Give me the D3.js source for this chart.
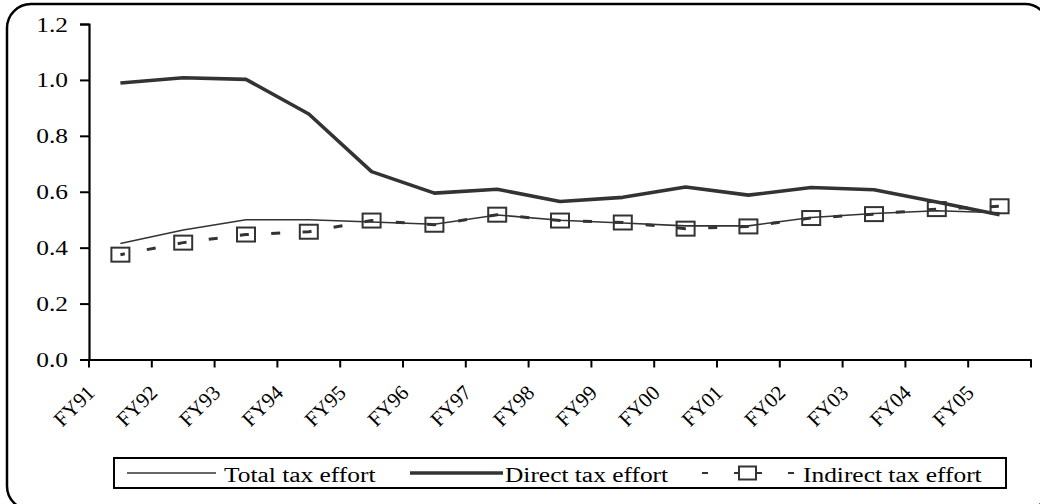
<!DOCTYPE html>
<html><head><meta charset="utf-8">
<script src="https://cdn.jsdelivr.net/npm/d3@7"></script>
<style>body{margin:0;background:#fff;overflow:hidden}svg{display:block}text{font-family:"Liberation Serif","Times New Roman",serif;fill:#000}</style>
</head><body><svg id="c" width="1040" height="504"></svg>
<script>
const categories = ["FY91","FY92","FY93","FY94","FY95","FY96","FY97","FY98","FY99","FY00","FY01","FY02","FY03","FY04","FY05"];
const totalTax = [0.415,0.463,0.500,0.500,0.492,0.484,0.517,0.498,0.488,0.478,0.478,0.508,0.522,0.532,0.525];
const directTax = [0.989,1.008,1.002,0.878,0.672,0.595,0.609,0.565,0.580,0.617,0.588,0.615,0.607,0.563,0.518];
const indirectTax = [0.375,0.418,0.447,0.457,0.497,0.482,0.518,0.497,0.490,0.468,0.476,0.506,0.520,0.538,0.548];
const yTicks = [0,0.2,0.4,0.6,0.8,1.0,1.2];
const seriesNames = ["Total tax effort","Direct tax effort","Indirect tax effort"];

const svg = d3.select("#c");
const FS = 20, SX = 1.27;
const col = "#333";

svg.append("rect").attr("x",7).attr("y",4).attr("width",1042).attr("height",506)
  .attr("rx",24).attr("fill","none").attr("stroke","#000").attr("stroke-width",2.5);

const x = d3.scaleBand().domain(categories).range([89,1031]);
const y = d3.scaleLinear().domain([0,1.2]).range([359.5,24]);
const cx = d => x(d) + x.bandwidth()/2;

// Y axis
const ya = svg.append("g").attr("transform","translate(89,0)")
  .call(d3.axisLeft(y).tickValues(yTicks).tickSize(9).tickPadding(0).tickFormat(d3.format(".1f")));
ya.select(".domain").attr("stroke","#000").attr("stroke-width",2.2);
ya.selectAll(".tick line").attr("stroke","#000").attr("stroke-width",2);
ya.selectAll(".tick text").each(function(){
  const t = d3.select(this);
  t.attr("x",null).attr("dy",null).attr("text-anchor","end")
   .attr("transform",`translate(-21,7) scale(${SX},1)`)
   .style("font-size",FS+"px").style("font-family","'Liberation Serif','Times New Roman',serif").attr("fill","#000");
});

// X axis
const xa = svg.append("g").attr("transform","translate(0,359.5)")
  .call(d3.axisBottom(x).tickSize(0).tickFormat(""));
xa.select(".domain").attr("stroke","#000").attr("stroke-width",2.2);
xa.selectAll(".tick").remove();
const edges = categories.map(c=>x(c)).concat([x(categories[categories.length-1])+x.bandwidth()]);
xa.selectAll("line.tk").data(edges).enter().append("line").attr("class","tk")
  .attr("x1",d=>d).attr("x2",d=>d).attr("y1",0).attr("y2",8).attr("stroke","#000").attr("stroke-width",2);
svg.append("g").selectAll("text").data(categories).enter().append("text")
  .attr("text-anchor","end")
  .attr("transform",d=>`translate(${x(d)+7},394) rotate(-45)`)
  .style("font-size","21px").text(d=>d);

const line = d3.line().x((d,i)=>cx(categories[i])).y(d=>y(d));

// Total
svg.append("path").datum(totalTax).attr("d",line).attr("fill","none")
  .attr("stroke",col).attr("stroke-width",1.6);
// Direct
svg.append("path").datum(directTax).attr("d",line).attr("fill","none")
  .attr("stroke",col).attr("stroke-width",3.6).attr("stroke-linejoin","round");
// Indirect dashed
svg.append("path").datum(indirectTax).attr("d",line).attr("fill","none")
  .attr("stroke",col).attr("stroke-width",3).attr("stroke-dasharray","9,22.4").attr("stroke-dashoffset",4.5);
svg.append("g").selectAll("rect").data(indirectTax).enter().append("rect")
  .attr("x",(d,i)=>cx(categories[i])-9).attr("y",d=>y(d)-7)
  .attr("width",18).attr("height",14).attr("fill","none").attr("stroke",col).attr("stroke-width",2);

// Legend
const lg = svg.append("g");
lg.append("rect").attr("x",114).attr("y",458).attr("width",892).attr("height",30)
  .attr("fill","#fff").attr("stroke","#000").attr("stroke-width",2);
lg.append("line").attr("x1",127).attr("x2",216).attr("y1",473).attr("y2",473).attr("stroke",col).attr("stroke-width",1.6);
lg.append("line").attr("x1",410).attr("x2",503).attr("y1",473).attr("y2",473).attr("stroke",col).attr("stroke-width",3.6);
lg.append("line").attr("x1",702).attr("x2",794).attr("y1",473).attr("y2",473).attr("stroke",col).attr("stroke-width",2)
  .attr("stroke-dasharray","6,26,28,26,6");
lg.append("rect").attr("x",739).attr("y",466.5).attr("width",17).attr("height",13).attr("fill","#fff").attr("stroke",col).attr("stroke-width",2);
const lx = [224,505,803];
lg.selectAll("text").data(seriesNames).enter().append("text")
  .attr("transform",(d,i)=>`translate(${lx[i]},482) scale(${SX},1)`)
  .style("font-size",FS+"px").text(d=>d);
</script></body></html>
